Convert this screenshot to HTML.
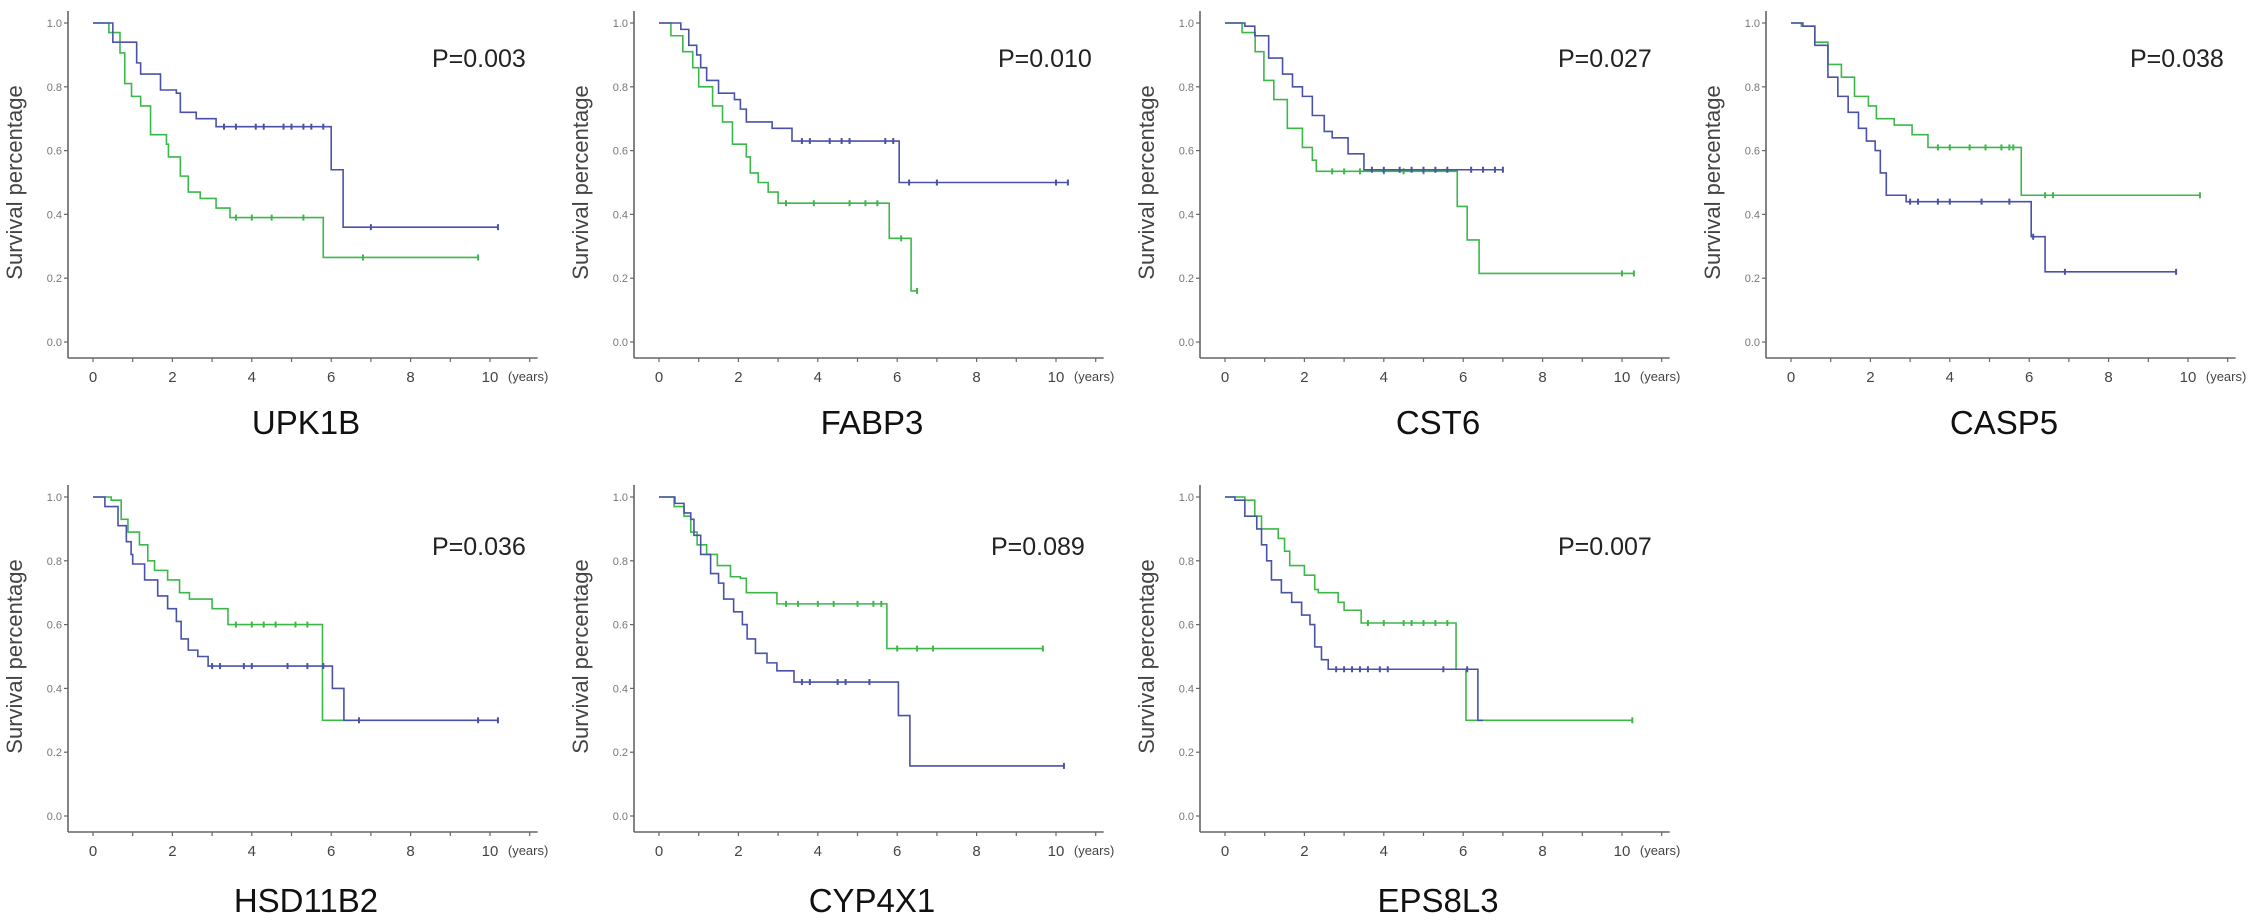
<!DOCTYPE html>
<html><head><meta charset="utf-8">
<style>
html,body{margin:0;padding:0;background:#fff;}
svg{display:block;}
text{font-family:"Liberation Sans",Arial,sans-serif;}
</style></head>
<body>
<svg id="fig" width="2268" height="921" viewBox="0 0 2268 921" xmlns="http://www.w3.org/2000/svg"></svg>
<script>
// ---- data ----
const geneNames = ["UPK1B","FABP3","CST6","CASP5","HSD11B2","CYP4X1","EPS8L3"];
const pValues = ["P=0.003","P=0.010","P=0.027","P=0.038","P=0.036","P=0.089","P=0.007"];
const yTickLabels = ["0.0","0.2","0.4","0.6","0.8","1.0"];
const xTickLabels = ["0","2","4","6","8","10"];

// step events: times and survival after the drop; plus end time and censor times
const blueTimes = [
 [0.5,1.1,1.2,1.7,2.1,2.2,2.6,3.1,6.0,6.3],
 [0.55,0.75,0.95,1.05,1.2,1.5,1.9,2.05,2.2,2.85,3.35,6.05],
 [0.5,0.75,1.1,1.45,1.7,1.95,2.2,2.5,2.7,3.1,3.5],
 [0.3,0.6,0.93,1.18,1.44,1.7,1.9,2.12,2.25,2.4,2.9,6.05,6.4],
 [0.3,0.63,0.84,0.96,1.0,1.3,1.63,1.88,2.1,2.22,2.4,2.64,2.9,6.03,6.32],
 [0.4,0.63,0.8,0.88,1.05,1.3,1.5,1.63,1.88,2.1,2.22,2.43,2.72,2.97,3.4,6.03,6.32],
 [0.25,0.5,0.8,0.92,1.05,1.17,1.42,1.68,1.93,2.14,2.26,2.43,2.6,6.37]
];
const blueSurv = [
 [0.94,0.875,0.84,0.79,0.78,0.72,0.70,0.675,0.54,0.36],
 [0.98,0.93,0.90,0.86,0.82,0.78,0.76,0.73,0.69,0.67,0.63,0.50],
 [0.99,0.96,0.89,0.84,0.80,0.77,0.71,0.66,0.64,0.59,0.54],
 [0.99,0.93,0.83,0.77,0.72,0.67,0.63,0.60,0.53,0.46,0.44,0.33,0.22],
 [0.97,0.91,0.86,0.82,0.79,0.74,0.69,0.65,0.61,0.555,0.52,0.50,0.47,0.40,0.30],
 [0.98,0.95,0.93,0.88,0.82,0.76,0.73,0.68,0.64,0.60,0.555,0.51,0.48,0.455,0.42,0.315,0.157],
 [0.99,0.94,0.90,0.85,0.80,0.74,0.70,0.67,0.63,0.60,0.53,0.49,0.46,0.30]
];
const blueEnd = [10.2,10.3,7.0,9.7,10.2,10.2,6.5];
const blueCensor = [
 [3.3,3.6,4.1,4.3,4.8,5.0,5.3,5.5,5.8,7.0,10.2],
 [3.6,3.8,4.3,4.6,4.8,5.7,5.9,6.3,7.0,10.0,10.3],
 [3.7,4.0,4.4,4.7,5.0,5.3,5.6,6.2,6.5,6.8,7.0],
 [3.0,3.2,3.7,4.0,4.8,5.5,6.1,6.9,9.7],
 [3.0,3.2,3.8,4.0,4.9,5.4,5.8,6.7,9.7,10.2],
 [3.6,3.8,4.5,4.7,5.3,10.2],
 [2.8,3.0,3.2,3.4,3.6,3.9,4.1,5.5,6.1]
];

const greenTimes = [
 [0.4,0.68,0.8,0.97,1.2,1.45,1.85,1.9,2.2,2.4,2.7,3.1,3.45,5.8],
 [0.3,0.6,0.85,1.0,1.35,1.6,1.85,2.2,2.3,2.5,2.75,3.0,5.8,6.35],
 [0.43,0.76,0.98,1.23,1.57,1.95,2.2,2.3,5.85,6.1,6.4],
 [0.26,0.6,0.93,1.27,1.6,1.95,2.15,2.6,3.05,3.45,5.8],
 [0.46,0.71,0.88,1.17,1.38,1.55,1.88,2.18,2.43,3.0,3.4,5.78],
 [0.38,0.63,0.8,0.96,1.2,1.47,1.8,2.05,2.2,2.97,5.74],
 [0.5,0.75,0.92,1.34,1.5,1.63,2.0,2.26,2.35,2.85,3.0,3.43,5.82,6.07]
];
const greenSurv = [
 [0.97,0.906,0.81,0.77,0.74,0.65,0.62,0.58,0.52,0.47,0.45,0.42,0.39,0.265],
 [0.96,0.91,0.86,0.80,0.74,0.69,0.62,0.58,0.53,0.50,0.47,0.435,0.325,0.16],
 [0.97,0.91,0.82,0.76,0.67,0.61,0.57,0.535,0.425,0.32,0.215],
 [0.99,0.94,0.87,0.83,0.77,0.74,0.70,0.68,0.65,0.61,0.46],
 [0.99,0.93,0.89,0.85,0.80,0.77,0.74,0.70,0.68,0.65,0.60,0.30],
 [0.97,0.94,0.89,0.85,0.82,0.785,0.75,0.745,0.70,0.665,0.525],
 [0.99,0.94,0.90,0.87,0.83,0.785,0.755,0.71,0.70,0.67,0.645,0.605,0.46,0.30]
];
const greenEnd = [9.7,6.5,10.3,10.3,6.5,9.67,10.26];
const greenCensor = [
 [3.6,4.0,4.5,5.3,6.8,9.7],
 [3.2,3.9,4.8,5.2,5.5,6.1,6.5],
 [2.7,3.0,3.4,4.0,4.5,5.0,10.0,10.3],
 [3.7,4.0,4.5,4.9,5.3,5.5,5.6,6.4,6.6,10.3],
 [3.6,4.0,4.3,4.6,5.1,5.4],
 [3.2,3.5,4.0,4.4,5.0,5.4,5.6,6.0,6.5,6.9,9.67],
 [3.6,4.0,4.5,4.7,5.0,5.3,5.6,10.26]
];

// ---- layout ----
const NS = "http://www.w3.org/2000/svg";
const svg = document.getElementById("fig");
const pStart = [364,364,358,364,364,357,358];
const BLUE = "#4a52a8", GREEN = "#3cb84a";

function mk(tag, attrs, parent){
  const e = document.createElementNS(NS, tag);
  for (const k in attrs) e.setAttribute(k, attrs[k]);
  (parent||svg).appendChild(e);
  return e;
}

function drawSeries(g, xs, ys, times, surv, endT, censor, color, name){
  let d = "M" + xs(0) + "," + ys(1);
  let cur = 1;
  for (let i = 0; i < times.length; i++){
    d += " H" + xs(times[i]) + " V" + ys(surv[i]);
    cur = surv[i];
  }
  d += " H" + xs(endT);
  const p = mk("path", {d:d, fill:"none", stroke:color, "stroke-width":1.6}, g);
  
  
  // censor marks
  censor.forEach(t => {
    let s = 1;
    for (let i = 0; i < times.length; i++) if (times[i] <= t) s = surv[i];
    const m = mk("line", {x1:xs(t), x2:xs(t), y1:ys(s)-3, y2:ys(s)+3, stroke:color, "stroke-width":2}, g);
    
    
  });
}

for (let k = 0; k < geneNames.length; k++){
  const c = k < 4 ? k : k - 4;
  const r = k < 4 ? 0 : 1;
  const axisX = 68 + 566 * c;
  const off = 474 * r;
  const t0 = axisX + 25;
  const yTop = 23 + off, yBot = 342 + off, xAxisY = 358 + off;
  const xs = t => t0 + t * 39.7;
  const ys = s => yBot - s * (yBot - yTop);

  const g = mk("g", {});
  
  

  // axes
  const ya = mk("line", {x1:axisX, x2:axisX, y1:yTop-12, y2:xAxisY, stroke:"#666", "stroke-width":1.6}, g);
  
  
  const xa = mk("line", {x1:axisX, x2:xs(11.2), y1:xAxisY, y2:xAxisY, stroke:"#666", "stroke-width":1.6}, g);
  
  

  yTickLabels.forEach((lab, i) => {
    const v = i * 0.2;
    const tk = mk("line", {x1:axisX-4, x2:axisX, y1:ys(v), y2:ys(v), stroke:"#666", "stroke-width":1.2}, g);
    
    
    const tx = mk("text", {x:axisX-6, y:ys(v)+4, "text-anchor":"end", "font-size":11, fill:"#777"}, g);
    tx.textContent = lab;
    
    
  });
  for (let yr = 0; yr <= 11; yr++){
    const tk = mk("line", {x1:xs(yr), x2:xs(yr), y1:xAxisY, y2:xAxisY+4, stroke:"#666", "stroke-width":1.2}, g);
    
    
  }
  xTickLabels.forEach(lab => {
    const tx = mk("text", {x:xs(+lab), y:xAxisY+24, "text-anchor":"middle", "font-size":15, fill:"#444"}, g);
    tx.textContent = lab;
    
    
  });
  const yrs = mk("text", {x:xs(10.45), y:xAxisY+23, "font-size":13, fill:"#444"}, g);
  yrs.textContent = "(years)";
  
  

  const yt = mk("text", {x:0, y:0, "text-anchor":"middle", "font-size":22, fill:"#444",
    transform:"translate(" + (axisX-46) + "," + ((yTop+yBot)/2) + ") rotate(-90)"}, g);
  yt.textContent = "Survival percentage";
  
  

  const pv = mk("text", {x:axisX + pStart[k], y:(r===0 ? 67 : 81) + off, "font-size":25, fill:"#222"}, g);
  pv.textContent = pValues[k];
  
  

  const ti = mk("text", {x:axisX + 238, y:(r===0 ? 434 : 438) + off, "text-anchor":"middle", "font-size":33, fill:"#111"}, g);
  ti.textContent = geneNames[k];
  
  

  drawSeries(g, xs, ys, greenTimes[k], greenSurv[k], greenEnd[k], greenCensor[k], GREEN, 'green-series');
  drawSeries(g, xs, ys, blueTimes[k], blueSurv[k], blueEnd[k], blueCensor[k], BLUE, 'blue-series');
}
</script>
</body></html>
